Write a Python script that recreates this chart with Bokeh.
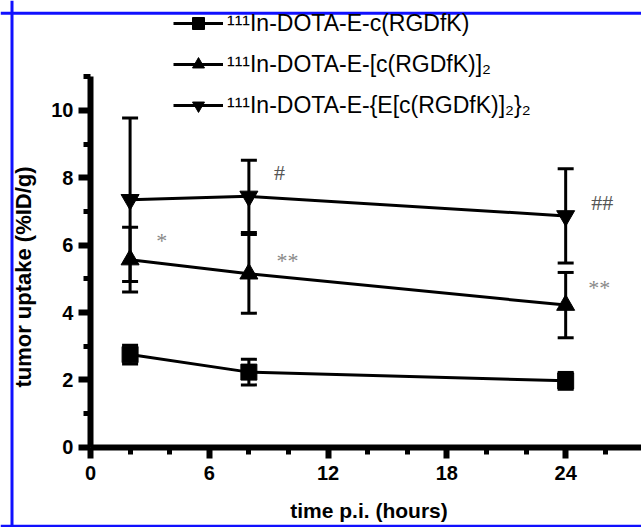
from bokeh.plotting import figure
from bokeh.models import (ColumnDataSource, LinearAxis, FixedTicker, Whisker, TeeHead,
                          Legend, LegendItem, Label, Span)
from bokeh.core.properties import value
from bokeh.embed import file_html
from bokeh.resources import INLINE
import math

# ---- data ----
hours = [2, 8, 24]
mono = [2.75, 2.23, 1.97]
mono_sd = [0.28, 0.38, 0.25]
dimer = [5.57, 5.15, 4.22]
dimer_sd = [0.96, 1.17, 0.97]
tetramer = [7.35, 7.45, 6.87]
tetramer_sd = [2.43, 1.07, 1.40]

labels = ["\u00b9\u00b9\u00b9In-DOTA-E-c(RGDfK)",
          "\u00b9\u00b9\u00b9In-DOTA-E-[c(RGDfK)]\u2082",
          "\u00b9\u00b9\u00b9In-DOTA-E-{E[c(RGDfK)]\u2082}\u2082"]

x_ticks = [0, 6, 12, 18, 24]
x_minor = [2, 4, 8, 10, 14, 16, 20, 22, 26, 28]
y_ticks = [0, 2, 4, 6, 8, 10]
y_minor = [1, 3, 5, 7, 9, 11]

sig_x = [3.6, 9.55, 9.95, 25.85, 25.7]
sig_y = [6.13, 8.17, 5.55, 7.28, 4.75]
sig_text = ["*", "#", "**", "##", "**"]
sig_color = ["#888888", "#555555", "#888888", "#555555", "#888888"]

W, H = 641, 527
XR = (-4.545, 27.83)
YR = (-2.385, 13.267)

p = figure(width=W, height=H, x_range=XR, y_range=YR, output_backend="svg",
           toolbar_location=None, x_axis_location=None, y_axis_location=None,
           min_border=0, min_border_left=0, min_border_right=0,
           min_border_top=0, min_border_bottom=0)
p.outline_line_color = None
p.xgrid.visible = False
p.ygrid.visible = False
p.background_fill_color = "white"
p.border_fill_color = "white"

def px_to_x(px):
    return XR[0] + px / W * (XR[1] - XR[0])

def py_to_y(py):
    return YR[1] - py / H * (YR[1] - YR[0])

# blue frame
p.add_layout(Span(location=px_to_x(11.5), dimension="height", line_color="#1010ff", line_width=3))
p.add_layout(Span(location=py_to_y(12.8), dimension="width", line_color="#1010ff", line_width=3))
p.add_layout(Span(location=py_to_y(525.8), dimension="width", line_color="#1010ff", line_width=3))

FONT = "Liberation Sans"

xaxis = LinearAxis(fixed_location=0, bounds=(0, 40),
                   ticker=FixedTicker(ticks=x_ticks, minor_ticks=x_minor))
yaxis = LinearAxis(fixed_location=0, bounds=(0, 11),
                   ticker=FixedTicker(ticks=y_ticks, minor_ticks=y_minor))
for ax in (xaxis, yaxis):
    ax.axis_line_width = 6
    ax.axis_line_color = "black"
    ax.major_tick_line_width = 6
    ax.minor_tick_line_width = 5
    ax.major_tick_in = 0
    ax.minor_tick_in = 0
    ax.major_label_text_font = FONT
    ax.major_label_text_font_style = "bold"
    ax.major_label_text_font_size = "20px"
    ax.major_label_text_color = "black"
    ax.major_tick_line_color = "black"
    ax.minor_tick_line_color = "black"
xaxis.major_tick_out = 11
xaxis.minor_tick_out = 7
xaxis.major_label_standoff = 8
yaxis.major_tick_out = 12
yaxis.minor_tick_out = 7
yaxis.major_label_standoff = 5
p.add_layout(xaxis, "below")
p.add_layout(yaxis, "left")

def add_series(vals, sds, marker, size):
    src = ColumnDataSource(dict(x=hours, y=vals,
                                upper=[v + s for v, s in zip(vals, sds)],
                                lower=[v - s for v, s in zip(vals, sds)]))
    w = Whisker(base="x", upper="upper", lower="lower", source=src,
                line_width=3, line_color="black",
                upper_head=TeeHead(size=16, line_width=3, line_color="black"),
                lower_head=TeeHead(size=16, line_width=3, line_color="black"))
    p.add_layout(w)
    ln = p.line("x", "y", source=src, line_width=3, line_color="black")
    mk = p.scatter("x", "y", source=src, marker=marker, size=size,
                   fill_color="black", line_color="black")
    return ln, mk

r1 = add_series(mono, mono_sd, "square", 16)
r2 = add_series(dimer, dimer_sd, "triangle", 18)
r3 = add_series(tetramer, tetramer_sd, "inverted_triangle", 18)

legend = Legend(items=[LegendItem(label=labels[0], renderers=list(r1)),
                       LegendItem(label=labels[1], renderers=list(r2)),
                       LegendItem(label=labels[2], renderers=list(r3))],
                location=(173, 407), glyph_width=50, glyph_height=30, label_height=30,
                spacing=11, padding=0, margin=0, label_standoff=4,
                border_line_color=None, background_fill_alpha=0,
                label_text_font=FONT, label_text_font_size="23px",
                label_text_color="black")
p.add_layout(legend)

p.text(x=sig_x, y=sig_y, text=sig_text, text_color=sig_color,
       text_font=value("Liberation Serif"), text_font_size="22px",
       text_align="center", text_baseline="middle")

p.add_layout(Label(x=px_to_x(23.3), y=py_to_y(276.5), text="tumor uptake (%ID/g)",
                   angle=math.pi / 2, text_align="center", text_baseline="middle",
                   text_font=FONT, text_font_style="bold", text_font_size="22px",
                   text_color="black"))
p.add_layout(Label(x=px_to_x(368.5), y=py_to_y(510), text="time p.i. (hours)",
                   text_align="center", text_baseline="middle",
                   text_font=FONT, text_font_style="bold", text_font_size="21px",
                   text_color="black"))

open("out.html", "w").write(file_html(p, INLINE))
